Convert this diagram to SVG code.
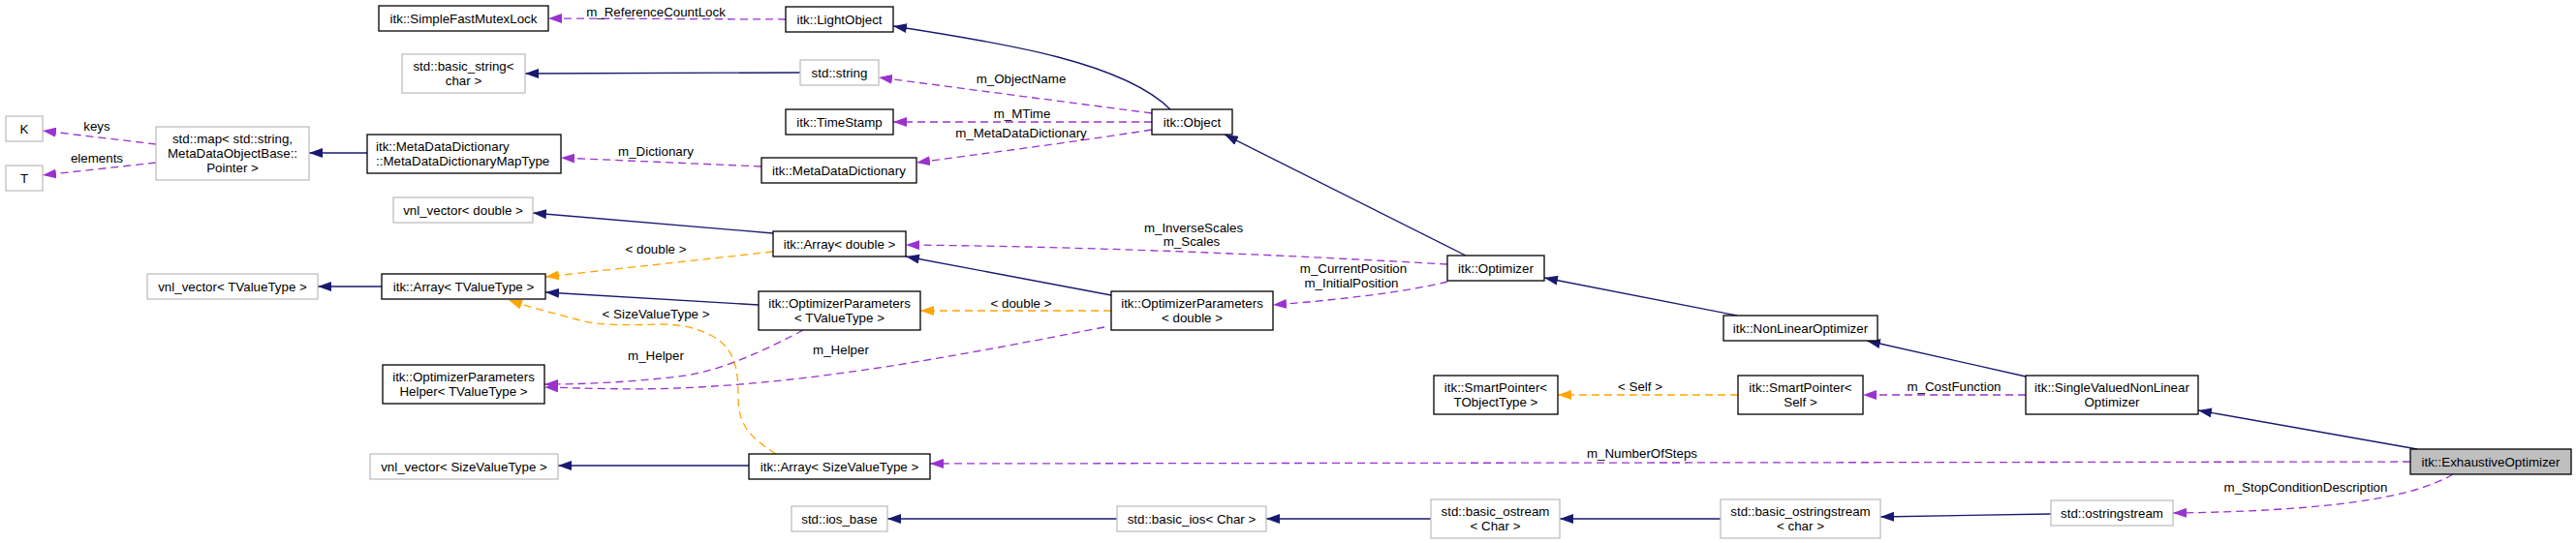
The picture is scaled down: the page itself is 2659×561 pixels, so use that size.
<svg xmlns="http://www.w3.org/2000/svg" width="2659" height="561" viewBox="0 0 2659 561">
<style>
text{font-family:"Liberation Sans",Arial,Helvetica,sans-serif;font-size:13.33px;fill:#000;text-anchor:middle}
.node rect{fill:#fff;stroke:#000;stroke-width:1.3}
.ext rect{stroke:#bfbfbf}
.cur rect{fill:#bfbfbf}
.left{text-anchor:start}
#edges path{fill:none;stroke-width:1.3}
.inh{stroke:#191970;marker-end:url(#aNavy)}
.use{stroke:#9a32cd;stroke-dasharray:8,5;marker-end:url(#aPurple)}
.tpl{stroke:#ffa500;stroke-dasharray:8,5;marker-end:url(#aOrange)}
</style>
<defs>
<marker id="aNavy" markerWidth="14" markerHeight="10" refX="14" refY="5" orient="auto" markerUnits="userSpaceOnUse"><path d="M0,0 L14,5 L0,10 z" fill="#191970"/></marker>
<marker id="aPurple" markerWidth="14" markerHeight="10" refX="14" refY="5" orient="auto" markerUnits="userSpaceOnUse"><path d="M0,0 L14,5 L0,10 z" fill="#9a32cd"/></marker>
<marker id="aOrange" markerWidth="14" markerHeight="10" refX="14" refY="5" orient="auto" markerUnits="userSpaceOnUse"><path d="M0,0 L14,5 L0,10 z" fill="#ffa500"/></marker>
</defs>
<rect width="2659" height="561" fill="#fff"/>
<g id="edges">
<path class="use" d="M811,20 L566,19"/>
<path class="inh" d="M826,75 L542,76"/>
<path class="inh" d="M1208,113 C1160,65 1040,45 922,27"/>
<path class="use" d="M1189,117 L907,80"/>
<path class="use" d="M1189,126 L922,126"/>
<path class="use" d="M1189,134 C1100,148 1020,158 946,168"/>
<path class="use" d="M786,172 L579,163"/>
<path class="inh" d="M379,158 L319,158"/>
<path class="use" d="M161,149 L44,135"/>
<path class="use" d="M161,168 L44,181"/>
<path class="inh" d="M798,241 L550,220"/>
<path class="tpl" d="M798,260 L563,286"/>
<path class="inh" d="M783,315 L563,302"/>
<path class="inh" d="M394,296 L328,296"/>
<path class="tpl" d="M801,469 C770,450 762,435 762,410 C762,385 760,360 735,347 C715,337 700,335 680,335 C650,336 620,337 595,330 C570,323 545,317 525,310"/>
<path class="use" d="M829,341 C790,362 740,385 700,389 C650,395 600,397 562,397"/>
<path class="use" d="M1140,338 C1000,365 850,395 700,401 C650,403 600,401 562,400"/>
<path class="use" d="M1494,273 C1350,265 1150,255 935,253"/>
<path class="use" d="M1494,291 C1450,302 1380,310 1314,315"/>
<path class="inh" d="M1147,305 L935,265"/>
<path class="tpl" d="M1147,321 L950,321"/>
<path class="inh" d="M1513,264 L1264,139"/>
<path class="inh" d="M1793,326 L1594,287"/>
<path class="inh" d="M2091,389 L1927,352"/>
<path class="use" d="M2091,408 L1923,408"/>
<path class="tpl" d="M1794,408 L1608,408"/>
<path class="inh" d="M2495,464 L2269,424"/>
<path class="use" d="M2488,477 L960,479"/>
<path class="use" d="M2532,490 C2490,515 2400,528 2243,530"/>
<path class="inh" d="M2117,531 L1941,534"/>
<path class="inh" d="M1776,536 L1610,536"/>
<path class="inh" d="M1477,536 L1307,536"/>
<path class="inh" d="M1153,536 L916,536"/>
<path class="inh" d="M773,481 L576,481"/>
</g>
<g id="edge-labels">
<text x="677" y="17">m_ReferenceCountLock</text>
<text x="100" y="135">keys</text>
<text x="100" y="168">elements</text>
<text x="677" y="161">m_Dictionary</text>
<text x="1054" y="86">m_ObjectName</text>
<text x="1055" y="122">m_MTime</text>
<text x="1054" y="142">m_MetaDataDictionary</text>
<text x="677" y="262">&lt; double &gt;</text>
<text x="1232" y="240">m_InverseScales</text>
<text x="1230" y="254">m_Scales</text>
<text x="677" y="329">&lt; SizeValueType &gt;</text>
<text x="677" y="372">m_Helper</text>
<text x="868" y="366">m_Helper</text>
<text x="1054" y="318">&lt; double &gt;</text>
<text x="1397" y="282">m_CurrentPosition</text>
<text x="1395" y="297">m_InitialPosition</text>
<text x="1693" y="404">&lt; Self &gt;</text>
<text x="2017" y="404">m_CostFunction</text>
<text x="1695" y="473">m_NumberOfSteps</text>
<text x="2380" y="508">m_StopConditionDescription</text>
</g>
<g id="n_sfml" class="node"><rect x="391" y="6" width="175" height="26"/><text x="478.5" y="23.6">itk::SimpleFastMutexLock</text></g>
<g id="n_lightobject" class="node"><rect x="811" y="7" width="111" height="26"/><text x="866.5" y="24.6">itk::LightObject</text></g>
<g id="n_basic_string" class="node ext"><rect x="415" y="56" width="127" height="40"/><text x="478.5" y="73.1">std::basic_string&lt;</text><text x="478.5" y="88.1">char &gt;</text></g>
<g id="n_string" class="node ext"><rect x="826" y="62" width="81" height="26"/><text x="866.5" y="79.6">std::string</text></g>
<g id="n_timestamp" class="node"><rect x="811" y="113" width="111" height="26"/><text x="866.5" y="130.6">itk::TimeStamp</text></g>
<g id="n_object" class="node"><rect x="1189" y="113" width="83" height="26"/><text x="1230.5" y="130.6">itk::Object</text></g>
<g id="n_K" class="node ext"><rect x="6" y="120" width="38" height="26"/><text x="25" y="137.6">K</text></g>
<g id="n_T" class="node ext"><rect x="6" y="171" width="38" height="26"/><text x="25" y="188.6">T</text></g>
<g id="n_map" class="node ext"><rect x="161" y="131" width="158" height="55"/><text x="240" y="148.1">std::map&lt; std::string,</text><text x="240" y="163.1">MetaDataObjectBase::</text><text x="240" y="178.1">Pointer &gt;</text></g>
<g id="n_maptype" class="node"><rect x="379" y="139" width="200" height="40"/><text class="left" x="388" y="156.1">itk::MetaDataDictionary</text><text class="left" x="388" y="171.1">::MetaDataDictionaryMapType</text></g>
<g id="n_mdd" class="node"><rect x="786" y="163" width="160" height="26"/><text x="866" y="180.6">itk::MetaDataDictionary</text></g>
<g id="n_vnl_double" class="node ext"><rect x="406" y="204" width="144" height="26"/><text x="478" y="221.6">vnl_vector&lt; double &gt;</text></g>
<g id="n_array_double" class="node"><rect x="798" y="239" width="137" height="26"/><text x="866.5" y="256.6">itk::Array&lt; double &gt;</text></g>
<g id="n_optimizer" class="node"><rect x="1494" y="264" width="100" height="26"/><text x="1544" y="281.6">itk::Optimizer</text></g>
<g id="n_vnl_tvalue" class="node ext"><rect x="152" y="283" width="176" height="26"/><text x="240" y="300.6">vnl_vector&lt; TValueType &gt;</text></g>
<g id="n_array_tvalue" class="node"><rect x="394" y="283" width="169" height="26"/><text x="478.5" y="300.6">itk::Array&lt; TValueType &gt;</text></g>
<g id="n_optparams_t" class="node"><rect x="783" y="301" width="167" height="40"/><text x="866.5" y="318.1">itk::OptimizerParameters</text><text x="866.5" y="333.1">&lt; TValueType &gt;</text></g>
<g id="n_optparams_d" class="node"><rect x="1147" y="301" width="167" height="40"/><text x="1230.5" y="318.1">itk::OptimizerParameters</text><text x="1230.5" y="333.1">&lt; double &gt;</text></g>
<g id="n_helper" class="node"><rect x="395" y="377" width="167" height="40"/><text x="478.5" y="394.1">itk::OptimizerParameters</text><text x="478.5" y="409.1">Helper&lt; TValueType &gt;</text></g>
<g id="n_nonlinear" class="node"><rect x="1779" y="326" width="159" height="26"/><text x="1858.5" y="343.6">itk::NonLinearOptimizer</text></g>
<g id="n_sp_tobj" class="node"><rect x="1480" y="388" width="128" height="40"/><text x="1544" y="405.1">itk::SmartPointer&lt;</text><text x="1544" y="420.1">TObjectType &gt;</text></g>
<g id="n_sp_self" class="node"><rect x="1794" y="388" width="129" height="40"/><text x="1858.5" y="405.1">itk::SmartPointer&lt;</text><text x="1858.5" y="420.1">Self &gt;</text></g>
<g id="n_singlevalued" class="node"><rect x="2091" y="388" width="178" height="40"/><text x="2180" y="405.1">itk::SingleValuedNonLinear</text><text x="2180" y="420.1">Optimizer</text></g>
<g id="n_vnl_size" class="node ext"><rect x="382" y="469" width="194" height="26"/><text x="479" y="486.6">vnl_vector&lt; SizeValueType &gt;</text></g>
<g id="n_array_size" class="node"><rect x="773" y="469" width="187" height="26"/><text x="866.5" y="486.6">itk::Array&lt; SizeValueType &gt;</text></g>
<g id="n_exhaustive" class="node cur"><rect x="2488" y="464" width="166" height="26"/><text x="2571" y="481.6">itk::ExhaustiveOptimizer</text></g>
<g id="n_ios_base" class="node ext"><rect x="817" y="523" width="99" height="26"/><text x="866.5" y="540.6">std::ios_base</text></g>
<g id="n_basic_ios" class="node ext"><rect x="1153" y="523" width="154" height="26"/><text x="1230" y="540.6">std::basic_ios&lt; Char &gt;</text></g>
<g id="n_basic_ostream" class="node ext"><rect x="1477" y="516" width="133" height="40"/><text x="1543.5" y="533.1">std::basic_ostream</text><text x="1543.5" y="548.1">&lt; Char &gt;</text></g>
<g id="n_basic_ostringstream" class="node ext"><rect x="1776" y="516" width="165" height="40"/><text x="1858.5" y="533.1">std::basic_ostringstream</text><text x="1858.5" y="548.1">&lt; char &gt;</text></g>
<g id="n_ostringstream" class="node ext"><rect x="2117" y="517" width="126" height="26"/><text x="2180" y="534.6">std::ostringstream</text></g>
</svg>
